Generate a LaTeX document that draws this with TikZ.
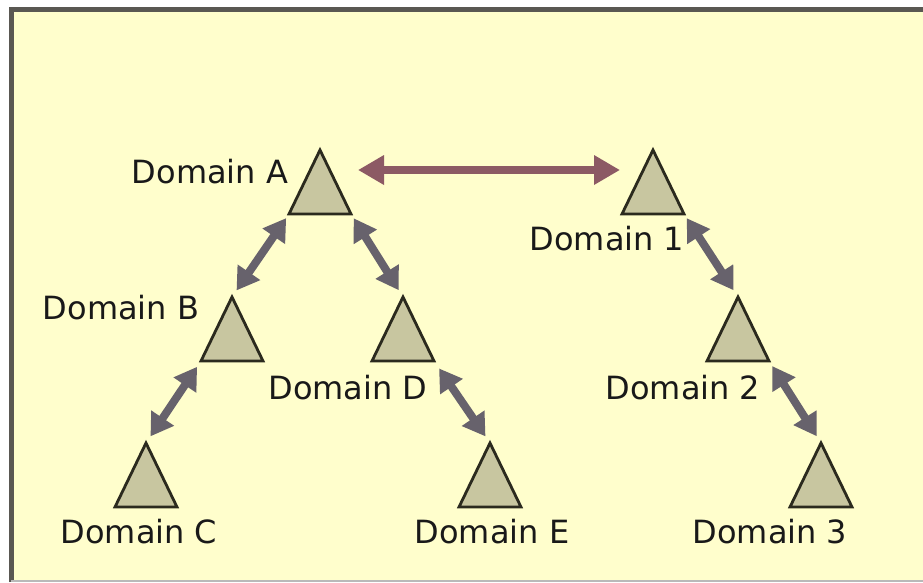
\documentclass[tikz,border=0pt]{standalone}
\usepackage{fontspec}
\setmainfont{DejaVu Sans}
\usetikzlibrary{shapes.geometric, arrows.meta}
\definecolor{panelbg}{HTML}{FFFECC}
\definecolor{domfill}{HTML}{C8C6A0}
\definecolor{domline}{HTML}{2B2A1E}
\definecolor{trustgray}{HTML}{67626C}
\definecolor{trustmauve}{HTML}{8C5A64}
\definecolor{framegray}{HTML}{5A5852}

\begin{document}
\begin{tikzpicture}[x=1pt, y=-1pt,
    dom/.style={isosceles triangle, isosceles triangle stretches, shape border rotate=90,
        minimum width=62pt, minimum height=64pt, inner sep=0pt, outer sep=0pt,
        draw=domline, line width=2.8pt, fill=domfill, anchor=apex},
    lbl/.style={font=\fontsize{32}{38}\selectfont, text=black!90, anchor=base},
    link/.style={{Triangle[width=26pt,length=22pt]}-{Triangle[width=26pt,length=22pt]}, line width=8pt, draw=trustgray},
    forest/.style={{Triangle[width=28pt,length=26pt]}-{Triangle[width=28pt,length=26pt]}, line width=8pt, draw=trustmauve}
]

% panel
\useasboundingbox (0,0) rectangle (923,582);
\fill[white] (0,0) rectangle (923,582);
\fill[panelbg] (11,9) rectangle (923,582);
\draw[framegray, line width=5pt] (11,582) -- (11,9) -- (923,9);
\draw[gray!55, line width=2pt] (11,581) -- (923,581);

% first tree
\node[dom] (a) at (320,150) {};
\node[dom] (b) at (232,297) {};
\node[dom] (d) at (403,297) {};
\node[dom] (c) at (146,443) {};
\node[dom] (e) at (490,443) {};

% second tree
\node[dom] (n1) at (653,150) {};
\node[dom] (n2) at (738,297) {};
\node[dom] (n3) at (821,443) {};

\node[lbl] (la) at (210,183) {Domain A};
\node[lbl] (lb) at (121,319) {Domain B};
\node[lbl] (ld) at (348,399) {Domain D};
\node[lbl] (lc) at (139,543) {Domain C};
\node[lbl] (le) at (492,543) {Domain E};
\node[lbl] (l1) at (607,250) {Domain 1};
\node[lbl] (l2) at (683,399) {Domain 2};
\node[lbl] (l3) at (770,543) {Domain 3};

% trusts
\draw[link, shorten <=5pt, shorten >=8pt] (a.left corner) -- (b.apex);
\draw[link, shorten <=5pt, shorten >=8pt] (a.right corner) -- (d.apex);
\draw[link, shorten <=7pt, shorten >=8pt] (b.left corner) -- (c.apex);
\draw[link, shorten <=9pt, shorten >=8pt] (d.right corner) -- (e.apex);
\draw[link, shorten <=5pt, shorten >=8pt] (n1.right corner) -- (n2.apex);
\draw[link, shorten <=6pt, shorten >=8pt] (n2.right corner) -- (n3.apex);
\draw[forest, shorten <=38pt, shorten >=33pt] ([yshift=-20pt]a.apex) -- ([yshift=-20pt]n1.apex);

\end{tikzpicture}
\end{document}
